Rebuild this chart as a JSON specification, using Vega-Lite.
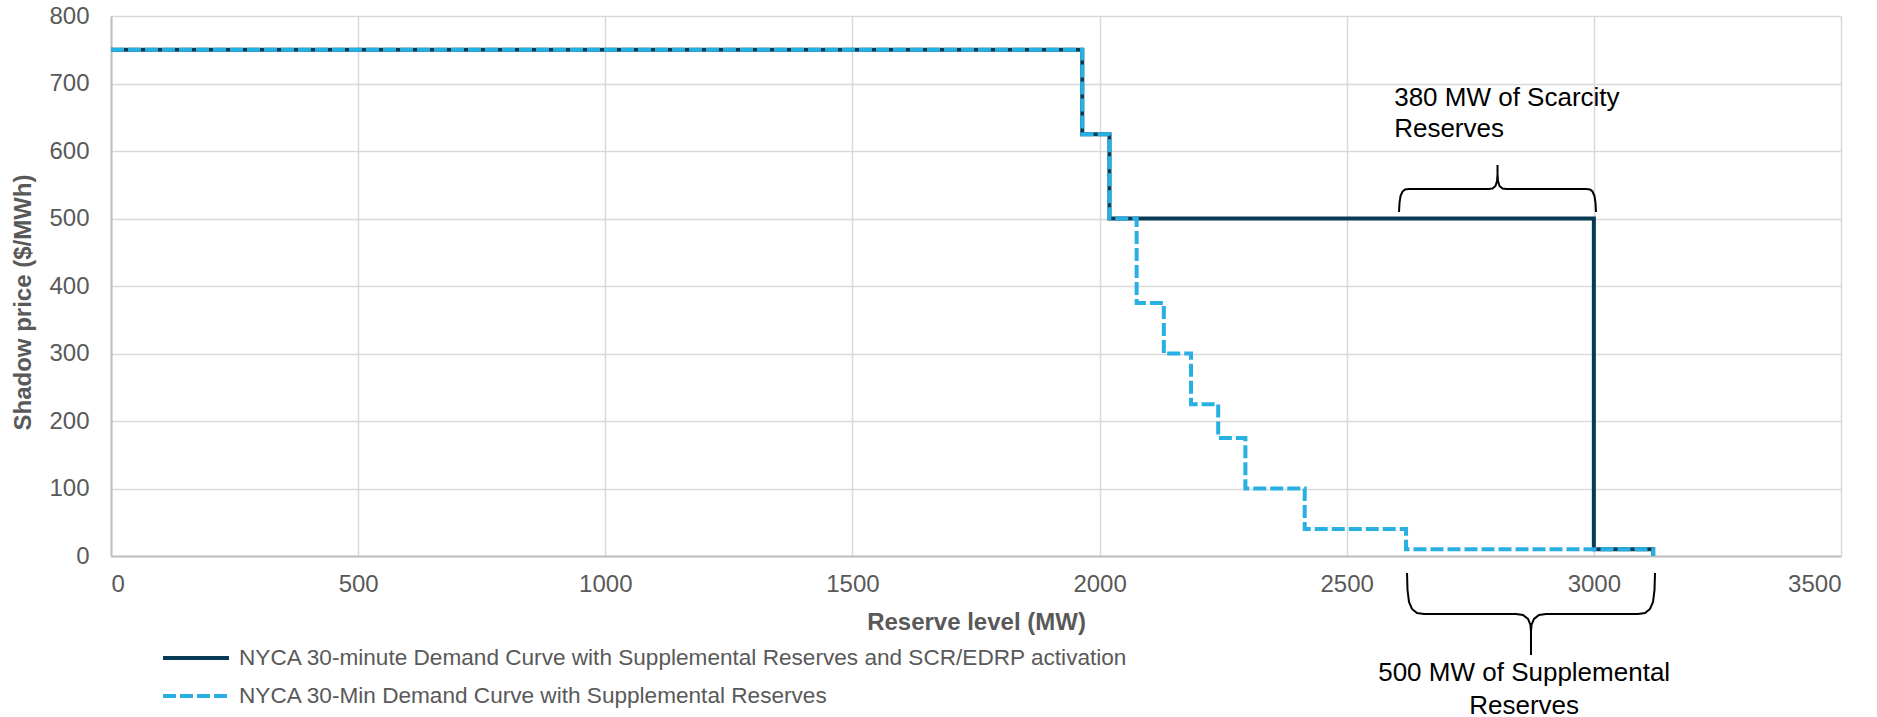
{
  "$schema": "https://vega.github.io/schema/vega-lite/v6.json",
  "width": 1730,
  "height": 540,
  "autosize": {"type": "none"},
  "padding": {"left": 111, "top": 16, "right": 36, "bottom": 161},
  "background": "white",
  "config": {
    "view": {"stroke": null},
    "axis": {
      "labelFont": "Liberation Sans",
      "labelFontSize": 24,
      "labelColor": "#595959",
      "grid": true,
      "gridColor": "#d9d9d9",
      "gridWidth": 1.5,
      "domainColor": "#bfbfbf",
      "domainWidth": 2,
      "ticks": false,
      "tickSize": 0,
      "titleFont": "Liberation Sans",
      "titleFontWeight": "bold",
      "titleFontSize": 24,
      "titleColor": "#595959"
    },
    "legend": {
      "orient": "none",
      "legendX": 72,
      "legendY": 629,
      "labelFont": "Liberation Sans",
      "labelFontSize": 22.6,
      "labelColor": "#595959",
      "labelLimit": 2000,
      "labelOffset": 30,
      "symbolType": "M-3,0H3",
      "symbolSize": 484,
      "symbolStrokeWidth": 4,
      "rowPadding": 13,
      "padding": 0,
      "title": null
    }
  },
  "datasets": {
    "curves": [
      {"series": "NYCA 30-minute Demand Curve with Supplemental Reserves and SCR/EDRP activation", "ord": 1, "mw": 0, "price": 750},
      {"series": "NYCA 30-minute Demand Curve with Supplemental Reserves and SCR/EDRP activation", "ord": 2, "mw": 1965, "price": 625},
      {"series": "NYCA 30-minute Demand Curve with Supplemental Reserves and SCR/EDRP activation", "ord": 3, "mw": 2020, "price": 500},
      {"series": "NYCA 30-minute Demand Curve with Supplemental Reserves and SCR/EDRP activation", "ord": 4, "mw": 3000, "price": 10},
      {"series": "NYCA 30-minute Demand Curve with Supplemental Reserves and SCR/EDRP activation", "ord": 5, "mw": 3120, "price": 0},
      {"series": "NYCA 30-Min Demand Curve with Supplemental Reserves", "ord": 1, "mw": 0, "price": 750},
      {"series": "NYCA 30-Min Demand Curve with Supplemental Reserves", "ord": 2, "mw": 1965, "price": 625},
      {"series": "NYCA 30-Min Demand Curve with Supplemental Reserves", "ord": 3, "mw": 2020, "price": 500},
      {"series": "NYCA 30-Min Demand Curve with Supplemental Reserves", "ord": 4, "mw": 2075, "price": 375},
      {"series": "NYCA 30-Min Demand Curve with Supplemental Reserves", "ord": 5, "mw": 2130, "price": 300},
      {"series": "NYCA 30-Min Demand Curve with Supplemental Reserves", "ord": 6, "mw": 2185, "price": 225},
      {"series": "NYCA 30-Min Demand Curve with Supplemental Reserves", "ord": 7, "mw": 2240, "price": 175},
      {"series": "NYCA 30-Min Demand Curve with Supplemental Reserves", "ord": 8, "mw": 2295, "price": 100},
      {"series": "NYCA 30-Min Demand Curve with Supplemental Reserves", "ord": 9, "mw": 2415, "price": 40},
      {"series": "NYCA 30-Min Demand Curve with Supplemental Reserves", "ord": 10, "mw": 2620, "price": 10},
      {"series": "NYCA 30-Min Demand Curve with Supplemental Reserves", "ord": 11, "mw": 3120, "price": 0}
    ],
    "braces": [
      {"brace": "scarcity", "ord": 1, "mw": 2605.8, "price": 509.6},
      {"brace": "scarcity", "ord": 2, "mw": 2606.8, "price": 523.0},
      {"brace": "scarcity", "ord": 3, "mw": 2608.8, "price": 533.3},
      {"brace": "scarcity", "ord": 4, "mw": 2612.9, "price": 540.0},
      {"brace": "scarcity", "ord": 5, "mw": 2617.9, "price": 543.0},
      {"brace": "scarcity", "ord": 6, "mw": 2626.0, "price": 543.7},
      {"brace": "scarcity", "ord": 7, "mw": 2786.9, "price": 543.7},
      {"brace": "scarcity", "ord": 8, "mw": 2794.9, "price": 544.4},
      {"brace": "scarcity", "ord": 9, "mw": 2801.0, "price": 548.2},
      {"brace": "scarcity", "ord": 10, "mw": 2804.1, "price": 555.6},
      {"brace": "scarcity", "ord": 11, "mw": 2805.1, "price": 565.9},
      {"brace": "scarcity", "ord": 12, "mw": 2805.1, "price": 579.3},
      {"brace": "scarcity", "ord": 13, "mw": 2805.1, "price": 565.9},
      {"brace": "scarcity", "ord": 14, "mw": 2806.1, "price": 555.6},
      {"brace": "scarcity", "ord": 15, "mw": 2809.1, "price": 548.2},
      {"brace": "scarcity", "ord": 16, "mw": 2815.2, "price": 544.4},
      {"brace": "scarcity", "ord": 17, "mw": 2823.3, "price": 543.7},
      {"brace": "scarcity", "ord": 18, "mw": 2984.1, "price": 543.7},
      {"brace": "scarcity", "ord": 19, "mw": 2992.2, "price": 543.0},
      {"brace": "scarcity", "ord": 20, "mw": 2997.3, "price": 540.0},
      {"brace": "scarcity", "ord": 21, "mw": 3001.3, "price": 533.3},
      {"brace": "scarcity", "ord": 22, "mw": 3003.3, "price": 523.0},
      {"brace": "scarcity", "ord": 23, "mw": 3004.3, "price": 509.6},
      {"brace": "supplemental", "ord": 1, "mw": 2622.0, "price": -25.2},
      {"brace": "supplemental", "ord": 2, "mw": 2623.0, "price": -50.4},
      {"brace": "supplemental", "ord": 3, "mw": 2626.0, "price": -68.1},
      {"brace": "supplemental", "ord": 4, "mw": 2632.1, "price": -78.5},
      {"brace": "supplemental", "ord": 5, "mw": 2642.2, "price": -84.4},
      {"brace": "supplemental", "ord": 6, "mw": 2656.4, "price": -85.9},
      {"brace": "supplemental", "ord": 7, "mw": 2842.5, "price": -85.9},
      {"brace": "supplemental", "ord": 8, "mw": 2856.6, "price": -87.4},
      {"brace": "supplemental", "ord": 9, "mw": 2866.8, "price": -93.3},
      {"brace": "supplemental", "ord": 10, "mw": 2871.8, "price": -102.2},
      {"brace": "supplemental", "ord": 11, "mw": 2872.8, "price": -112.6},
      {"brace": "supplemental", "ord": 12, "mw": 2872.8, "price": -146.7},
      {"brace": "supplemental", "ord": 13, "mw": 2872.8, "price": -112.6},
      {"brace": "supplemental", "ord": 14, "mw": 2873.8, "price": -102.2},
      {"brace": "supplemental", "ord": 15, "mw": 2878.9, "price": -93.3},
      {"brace": "supplemental", "ord": 16, "mw": 2889.0, "price": -87.4},
      {"brace": "supplemental", "ord": 17, "mw": 2903.2, "price": -85.9},
      {"brace": "supplemental", "ord": 18, "mw": 3089.3, "price": -85.9},
      {"brace": "supplemental", "ord": 19, "mw": 3103.5, "price": -84.4},
      {"brace": "supplemental", "ord": 20, "mw": 3113.6, "price": -78.5},
      {"brace": "supplemental", "ord": 21, "mw": 3119.7, "price": -68.1},
      {"brace": "supplemental", "ord": 22, "mw": 3122.7, "price": -50.4},
      {"brace": "supplemental", "ord": 23, "mw": 3123.7, "price": -25.2}
    ],
    "noteLeft": [
      {"text": "380 MW of Scarcity", "mw": 2596, "price": 678},
      {"text": "Reserves", "mw": 2596, "price": 632}
    ],
    "noteCenter": [
      {"text": "500 MW of Supplemental", "mw": 2859, "price": -173},
      {"text": "Reserves", "mw": 2859, "price": -222}
    ]
  },
  "layer": [
    {
      "data": {"name": "curves"},
      "mark": {"type": "line", "interpolate": "step-after", "strokeWidth": 4, "clip": false},
      "encoding": {
        "x": {
          "field": "mw", "type": "quantitative",
          "scale": {"domain": [0, 3500], "nice": false, "zero": false},
          "axis": {
            "values": [0, 500, 1000, 1500, 2000, 2500, 3000, 3500],
            "format": "d",
            "title": "Reserve level (MW)",
            "labelBaseline": "middle",
            "labelPadding": 28,
            "titleBaseline": "middle",
            "titleY": 66
          }
        },
        "y": {
          "field": "price", "type": "quantitative",
          "scale": {"domain": [0, 800], "nice": false, "zero": false},
          "axis": {
            "values": [0, 100, 200, 300, 400, 500, 600, 700, 800],
            "format": "d",
            "title": "Shadow price ($/MWh)",
            "labelPadding": 22,
            "titleAngle": -90,
            "titleBaseline": "middle",
            "titleAlign": "center",
            "titleX": -88,
            "titleY": 286
          }
        },
        "color": {
          "field": "series", "type": "nominal",
          "scale": {
            "domain": ["NYCA 30-minute Demand Curve with Supplemental Reserves and SCR/EDRP activation", "NYCA 30-Min Demand Curve with Supplemental Reserves"],
            "range": ["#073b54", "#29b0e3"]
          },
          "legend": {"title": null}
        },
        "strokeDash": {
          "field": "series", "type": "nominal",
          "scale": {
            "domain": ["NYCA 30-minute Demand Curve with Supplemental Reserves and SCR/EDRP activation", "NYCA 30-Min Demand Curve with Supplemental Reserves"],
            "range": [[1, 0], [13, 4]]
          },
          "legend": {"title": null}
        },
        "order": {"field": "ord", "type": "quantitative"}
      }
    },
    {
      "data": {"name": "braces"},
      "mark": {"type": "line", "color": "black", "strokeWidth": 2, "clip": false},
      "encoding": {
        "x": {"field": "mw", "type": "quantitative"},
        "y": {"field": "price", "type": "quantitative"},
        "detail": {"field": "brace", "type": "nominal"},
        "order": {"field": "ord", "type": "quantitative"}
      }
    },
    {
      "data": {"name": "noteLeft"},
      "mark": {"type": "text", "align": "left", "baseline": "middle", "font": "Liberation Sans", "fontSize": 26, "color": "black", "clip": false},
      "encoding": {
        "x": {"field": "mw", "type": "quantitative"},
        "y": {"field": "price", "type": "quantitative"},
        "text": {"field": "text"}
      }
    },
    {
      "data": {"name": "noteCenter"},
      "mark": {"type": "text", "align": "center", "baseline": "middle", "font": "Liberation Sans", "fontSize": 26, "color": "black", "clip": false},
      "encoding": {
        "x": {"field": "mw", "type": "quantitative"},
        "y": {"field": "price", "type": "quantitative"},
        "text": {"field": "text"}
      }
    }
  ]
}
